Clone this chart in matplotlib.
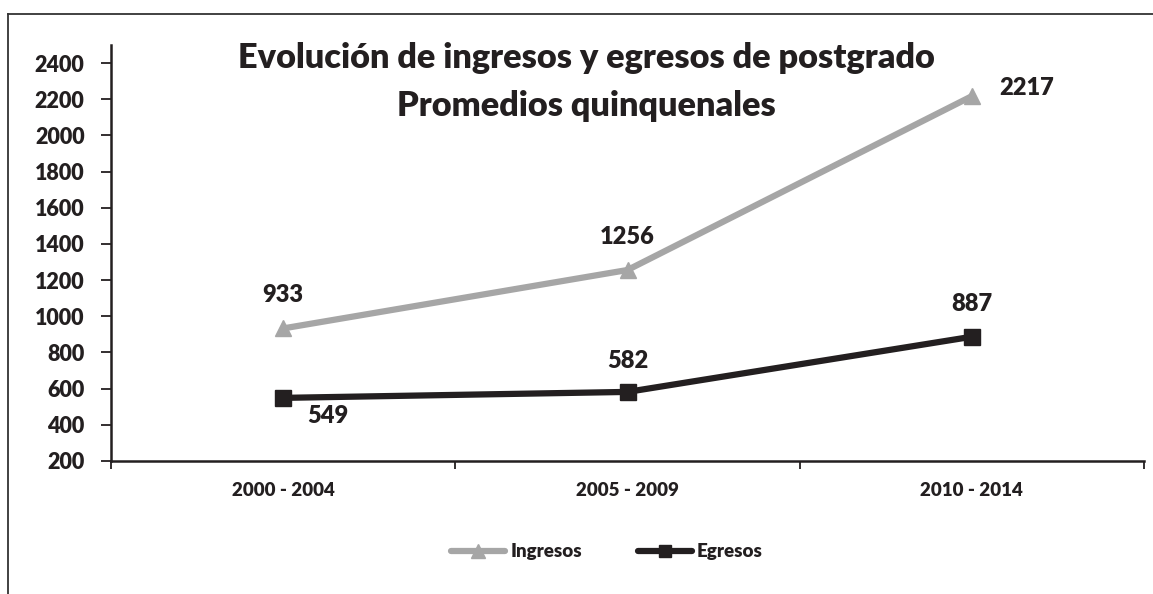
import matplotlib
matplotlib.use("Agg")
import matplotlib.pyplot as plt
from matplotlib.lines import Line2D
import numpy as np

periods = ["2000 - 2004", "2005 - 2009", "2010 - 2014"]
ingresos = [933, 1256, 2217]
egresos = [549, 582, 887]
yticks = list(range(200, 2401, 200))

INK = "#231f20"
GREY = "#a6a6a6"
BW = "heavy"
plt.rcParams.update({"font.family": ["Lato", "DejaVu Sans"], "font.weight": BW})

W, H = 1153, 594
fig = plt.figure(figsize=(W / 100, H / 100), dpi=100)
ax = fig.add_axes([111 / W, 1 - 461 / H, (1144 - 111) / W, (461 - 45) / H])

# outer frame (top and left edges only visible)
fig.add_artist(Line2D([8 / W, 1.0], [1 - 14 / H] * 2, color="#333333", lw=1.3))
fig.add_artist(Line2D([8 / W] * 2, [0, 1 - 14 / H], color="#333333", lw=1.3))

x = np.arange(len(periods))
ax.plot(x, ingresos, color=GREY, lw=4.5, marker="^", ms=12, label="Ingresos",
        solid_capstyle="round")
ax.plot(x, egresos, color=INK, lw=4.5, marker="s", ms=11, label="Egresos",
        solid_capstyle="round")

# data labels
offs_i = [(0, 22, "center", "bottom"), (0, 22, "center", "bottom"), (55, 8, "center", "center")]
offs_e = [(45, -18, "center", "center"), (0, 20, "center", "bottom"), (0, 22, "center", "bottom")]
for xi, v, (dx, dy, ha, va) in zip(x, ingresos, offs_i):
    ax.annotate(f"{v}", (xi, v), xytext=(dx, dy), textcoords="offset pixels",
                ha=ha, va=va, fontsize=17, color=INK, fontweight=BW)
for xi, v, (dx, dy, ha, va) in zip(x, egresos, offs_e):
    ax.annotate(f"{v}", (xi, v), xytext=(dx, dy), textcoords="offset pixels",
                ha=ha, va=va, fontsize=17, color=INK, fontweight=BW)

ax.set_xlim(-0.5, 2.5)
ax.set_ylim(200, 2500)
ax.set_yticks(yticks)
ax.set_xticks(x, periods)
ax.set_xticks(np.arange(-0.5, 2.6, 1), minor=True)
ax.tick_params(axis="x", which="major", length=0, pad=15, labelsize=13.5, colors=INK)
ax.tick_params(axis="x", which="minor", length=6, width=1.3, color=INK, direction="out")
ax.tick_params(axis="y", length=7, width=1.3, color=INK, direction="out",
               labelsize=15.5, pad=12, labelcolor=INK)
for s in ["top", "right"]:
    ax.spines[s].set_visible(False)
for s in ["left", "bottom"]:
    ax.spines[s].set_color(INK)
    ax.spines[s].set_linewidth(1.8)

fig.text(586 / W, 1 - 58 / H, "Evolución de ingresos y egresos de postgrado",
         ha="center", va="center", fontsize=24.7, color=INK, fontweight=BW)
fig.text(586 / W, 1 - 106 / H, "Promedios quinquenales",
         ha="center", va="center", fontsize=24.7, color=INK, fontweight=BW)

fig.legend(loc="center", bbox_to_anchor=(607 / W, 1 - 552 / H), ncol=2, frameon=False,
           fontsize=13.5, handlelength=2.9, columnspacing=3, handletextpad=0.25,
           labelcolor=INK, markerscale=0.8)

fig.savefig("out.png", dpi=100, facecolor="white")
